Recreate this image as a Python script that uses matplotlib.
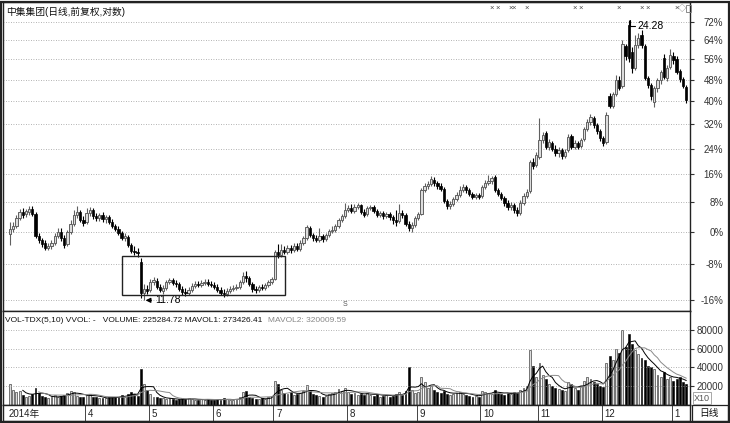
import numpy as np
import pandas as pd
import matplotlib
matplotlib.use('Agg')
import matplotlib.pyplot as plt
import matplotlib.patches as patches
from matplotlib.ticker import NullLocator, NullFormatter

plt.rcParams['font.family'] = ['Liberation Sans', 'Noto Sans CJK SC']

title = '中集集团(日线,前复权,对数)'
vol_header = 'VOL-TDX(5,10) VVOL: -   VOLUME: 225284.72 MAVOL1: 273426.41'
vol_header2 = 'MAVOL2: 320009.59'
base_price = 14.05

opens = [
    13.98, 14.16, 14.27, 14.57, 14.79, 14.72, 14.79, 14.90, 14.72, 13.90, 13.76, 13.66, 13.48, 13.55, 13.66, 13.90,
    14.05, 13.83, 13.62, 14.05, 14.35, 14.68, 14.79, 14.49,
    14.42, 14.75, 14.87, 14.64, 14.57, 14.68, 14.53, 14.61, 14.42, 14.27, 14.16, 14.01, 13.83, 13.87, 13.59, 13.38,
    13.34, 13.00,
    12.00, 12.13, 12.10, 12.35, 12.38, 12.19, 12.06, 12.16, 12.35, 12.41, 12.31, 12.28, 12.13, 12.03, 12.00, 12.10,
    12.22, 12.28, 12.25, 12.31, 12.35, 12.28, 12.25, 12.19, 12.10, 12.00, 11.97, 12.06, 12.13, 12.16, 12.19, 12.35,
    12.54, 12.48, 12.28, 12.13, 12.10, 12.19, 12.16, 12.25, 12.35, 12.44,
    13.34, 13.24, 13.41, 13.34, 13.48, 13.41, 13.55, 13.45, 13.66, 13.83, 14.20, 13.94, 13.83, 13.76, 13.90, 13.79,
    13.94, 14.08, 14.12, 14.27, 14.49, 14.64, 14.87, 14.94, 14.83, 14.98,
    15.06, 14.79, 14.72, 14.94, 14.98, 14.83, 14.68, 14.75, 14.64, 14.72,
    14.61, 14.49, 14.46, 14.75, 14.68, 14.35, 14.20, 14.31, 14.57, 14.72,
    15.66, 15.82, 15.90, 16.07, 15.94, 15.82, 15.70, 15.22, 15.02, 15.10,
    15.30, 15.46, 15.66, 15.78, 15.66, 15.50, 15.38, 15.46, 15.42, 15.78,
    15.94, 16.03, 16.19, 15.66, 15.50, 15.34, 15.14, 14.98, 15.06, 14.87,
    14.75, 15.14, 15.42, 15.62, 16.82, 16.70, 17.04,
    17.81, 18.13, 17.49, 17.67, 17.40, 17.22, 17.36, 17.09, 17.36, 17.99,
    17.49, 17.67, 17.54, 17.85, 18.32, 18.65, 18.85, 18.51, 18.22, 17.90,
    17.72, 19.95, 19.44, 20.05, 20.79, 20.47, 22.69, 23.98, 22.34, 21.44,
    22.75, 23.34, 22.69, 20.90, 20.52, 19.64, 20.36, 20.79, 22.00, 20.90,
    21.50, 22.11, 21.95, 21.28, 20.84, 20.41,
]
highs = [
    14.42, 14.42, 14.68, 14.90, 14.94, 14.90, 15.02, 15.02, 14.79, 14.01, 13.83, 13.76, 13.66, 13.76, 14.01, 14.20,
    14.20, 13.94, 14.12, 14.49, 14.87, 15.02, 14.87, 14.64,
    14.94, 14.98, 14.94, 14.75, 14.75, 14.79, 14.68, 14.68, 14.53, 14.35, 14.27, 14.08, 14.01, 13.94, 13.66, 13.55,
    13.48, 13.14,
    12.28, 12.25, 12.44, 12.51, 12.48, 12.28, 12.25, 12.41, 12.48, 12.48, 12.41, 12.35, 12.22, 12.16, 12.19, 12.31,
    12.38, 12.38, 12.41, 12.44, 12.44, 12.38, 12.35, 12.28, 12.19, 12.13, 12.16, 12.22, 12.25, 12.28, 12.41, 12.67,
    12.70, 12.54, 12.35, 12.22, 12.25, 12.28, 12.31, 12.41, 12.51, 13.41,
    13.62, 13.62, 13.55, 13.59, 13.59, 13.66, 13.66, 13.76, 13.90, 14.31, 14.27, 14.01, 13.94, 14.20, 13.98, 14.01,
    14.16, 14.27, 14.35, 14.57, 14.72, 15.14, 15.06, 15.10, 15.10, 15.14,
    15.10, 14.90, 15.02, 15.06, 15.06, 14.90, 14.83, 14.83, 14.79, 14.79,
    14.68, 14.87, 15.10, 14.87, 14.75, 14.46, 14.42, 14.64, 14.79, 15.74,
    15.94, 16.03, 16.23, 16.19, 16.03, 15.94, 15.78, 15.30, 15.22, 15.38,
    15.58, 15.82, 15.90, 15.86, 15.74, 15.58, 15.54, 15.54, 15.86, 16.07,
    16.27, 16.23, 16.27, 15.74, 15.58, 15.42, 15.26, 15.18, 15.14, 14.98,
    15.26, 15.54, 15.70, 16.91, 17.00, 17.27, 18.85,
    18.18, 18.22, 17.85, 17.76, 17.58, 17.49, 17.45, 17.40, 18.09, 18.09,
    17.81, 17.76, 17.90, 18.41, 18.80, 19.05, 18.95, 18.60, 18.32, 17.99,
    19.15, 20.10, 20.15, 21.06, 21.00, 23.04, 22.81, 24.28, 22.63, 23.34,
    23.49, 23.65, 22.81, 21.00, 20.63, 20.47, 20.90, 21.33, 22.23, 21.61,
    22.52, 22.34, 22.11, 21.39, 20.95, 20.52,
]
lows = [
    13.59, 14.05, 14.20, 14.49, 14.57, 14.61, 14.68, 14.64, 13.83, 13.66, 13.52, 13.41, 13.41, 13.45, 13.59, 13.83,
    13.72, 13.48, 13.55, 13.98, 14.27, 14.57, 14.42, 14.27,
    14.35, 14.64, 14.53, 14.46, 14.46, 14.42, 14.38, 14.35, 14.20, 14.08, 13.94, 13.76, 13.72, 13.52, 13.31, 13.24,
    13.17, 11.85,
    11.78, 11.97, 12.03, 12.25, 12.13, 12.03, 11.97, 12.10, 12.28, 12.25, 12.19, 12.06, 11.94, 11.91, 11.94, 12.03,
    12.16, 12.19, 12.19, 12.25, 12.22, 12.19, 12.13, 12.03, 11.94, 11.88, 11.91, 12.00, 12.06, 12.10, 12.13, 12.28,
    12.35, 12.22, 12.03, 12.00, 12.03, 12.10, 12.10, 12.19, 12.28, 12.41,
    13.14, 13.17, 13.27, 13.27, 13.31, 13.34, 13.38, 13.38, 13.59, 13.76, 13.87, 13.72, 13.69, 13.69, 13.69, 13.72,
    13.87, 14.01, 14.05, 14.20, 14.42, 14.57, 14.79, 14.75, 14.75, 14.90,
    14.72, 14.61, 14.64, 14.87, 14.75, 14.61, 14.61, 14.53, 14.57, 14.49,
    14.35, 14.27, 14.38, 14.57, 14.27, 14.08, 14.05, 14.23, 14.49, 14.68,
    15.58, 15.70, 15.82, 15.82, 15.70, 15.62, 15.14, 14.90, 14.90, 15.02,
    15.22, 15.38, 15.58, 15.54, 15.42, 15.30, 15.30, 15.30, 15.34, 15.70,
    15.86, 15.90, 15.58, 15.42, 15.26, 15.02, 14.87, 14.87, 14.75, 14.64,
    14.68, 15.06, 15.34, 15.54, 16.53, 16.61, 16.95,
    17.67, 17.40, 17.36, 17.31, 17.09, 17.04, 16.95, 17.00, 17.27, 17.40,
    17.40, 17.40, 17.45, 17.76, 18.22, 18.51, 18.37, 18.09, 17.76, 17.54,
    17.63, 19.34, 19.34, 19.95, 20.26, 20.36, 21.89, 21.78, 21.17, 21.33,
    22.57, 22.57, 20.79, 20.36, 19.74, 19.39, 20.15, 20.57, 20.84, 20.74,
    21.39, 21.67, 21.11, 20.68, 20.36, 19.59,
]
closes = [
    14.16, 14.27, 14.57, 14.79, 14.68, 14.83, 14.90, 14.72, 13.90, 13.76, 13.62, 13.48, 13.55, 13.66, 13.90, 14.05,
    13.83, 13.59, 14.05, 14.35, 14.68, 14.79, 14.49, 14.38,
    14.75, 14.87, 14.64, 14.57, 14.68, 14.53, 14.61, 14.42, 14.27, 14.16, 14.01, 13.83, 13.90, 13.59, 13.38, 13.34,
    13.31, 12.00,
    12.13, 12.06, 12.35, 12.41, 12.19, 12.10, 12.16, 12.35, 12.41, 12.31, 12.28, 12.13, 12.03, 12.00, 12.10, 12.22,
    12.28, 12.25, 12.31, 12.35, 12.28, 12.25, 12.19, 12.10, 12.00, 11.97, 12.06, 12.13, 12.16, 12.19, 12.35, 12.54,
    12.48, 12.28, 12.13, 12.10, 12.19, 12.16, 12.25, 12.35, 12.44, 13.34,
    13.24, 13.41, 13.34, 13.48, 13.41, 13.55, 13.45, 13.66, 13.83, 14.23, 13.94, 13.83, 13.76, 13.90, 13.79, 13.94,
    14.08, 14.12, 14.27, 14.49, 14.64, 14.87, 14.94, 14.83, 14.98, 15.06,
    14.79, 14.68, 14.94, 14.98, 14.83, 14.68, 14.75, 14.64, 14.72, 14.61,
    14.49, 14.42, 14.75, 14.68, 14.35, 14.20, 14.31, 14.57, 14.72, 15.66,
    15.82, 15.90, 16.11, 15.94, 15.82, 15.70, 15.22, 15.02, 15.10, 15.30,
    15.46, 15.66, 15.78, 15.66, 15.50, 15.38, 15.46, 15.38, 15.78, 15.94,
    16.03, 16.15, 15.66, 15.50, 15.34, 15.14, 14.98, 15.06, 14.87, 14.75,
    15.14, 15.42, 15.58, 16.82, 16.66, 17.13, 17.81,
    18.04, 17.49, 17.72, 17.40, 17.22, 17.36, 17.09, 17.27, 17.95, 17.49,
    17.67, 17.49, 17.81, 18.32, 18.65, 18.90, 18.51, 18.22, 17.90, 17.67,
    19.00, 19.44, 20.05, 20.79, 20.36, 22.81, 22.11, 22.00, 21.44, 22.75,
    23.16, 22.75, 20.90, 20.52, 19.95, 20.36, 20.79, 21.22, 20.95, 21.44,
    22.17, 21.89, 21.22, 20.84, 20.47, 19.74,
]
# volume in chart units (x10)
volumes = [
    22000, 16000, 14000, 15000, 11000, 9000, 10000, 12000, 18000, 13000, 10000, 8000, 7000, 8000, 11000, 9000,
    10000, 11000, 13000, 15000, 14000, 10000, 9000, 9000,
    11000, 12000, 9000, 8000, 7000, 7500, 7000, 8000, 9000, 8000, 9000, 11000, 9000, 12000, 14000, 12000, 10000,
    38000, 22000,
    16000, 12000, 9000, 8000, 7000, 7500, 6500, 7000, 6000, 5500, 6000, 7000, 6500, 7000, 6000, 5500, 5000, 6000,
    5500, 6500, 5000, 5500, 6000, 5500, 7000, 6000, 5500, 5000, 6500, 8000, 14000, 15000, 9000, 7000, 6500, 6000,
    7000, 6500, 8000, 10000,
    26000,
    22000, 16000, 13000, 12000, 14000, 11000, 12000, 13000, 15000, 21000, 16000, 12000, 11000, 10000, 9000, 10000,
    12000, 13000, 14000, 17000, 15000, 18000, 14000, 12000, 13000, 11000,
    12000, 11000, 13000, 11000, 10000, 12000, 9000, 10000, 11000, 9000, 10000, 12000, 14000, 11000, 15000, 40000,
    16000, 13000, 14000,
    30000,
    24000, 18000, 20000, 16000, 14000, 13000, 15000, 12000, 11000, 12000, 13000, 14000, 12000, 11000, 10000, 9000,
    10000, 9000, 15000, 14000, 13000, 12000, 16000, 13000, 12000, 11000, 13000, 12000, 14000, 13000, 16000, 18000,
    20000,
    58000, 42000, 30000, 45000,
    32000, 28000, 22000, 20000, 18000, 17000, 16000, 15000, 25000, 22000, 18000, 16000, 20000, 26000, 30000, 28000,
    24000, 22000, 20000, 19000,
    45000, 52000, 48000, 60000, 55000, 80000, 62000, 76000, 65000, 58000, 54000, 50000,
    48000, 42000, 40000, 38000, 32000, 30000, 35000, 28000, 30000, 26000, 28000, 30000, 24000, 22528,
]

pct_ticks = [-16, -8, 0, 8, 16, 24, 32, 40, 48, 56, 64, 72]
vol_ticks = [20000, 40000, 60000, 80000]
month_starts = [-1, 24, 44, 64, 83, 106, 128, 148, 166, 186, 208]
month_labels = ['2014年', '4', '5', '6', '7', '8', '9', '10', '11', '12', '1']
marker_days = [151, 153, 157, 158, 162, 177, 179, 191, 198, 200, 209]

W, H = 730, 423


def rect(x0, y0, x1, y1):
    # pixel box -> figure fraction
    return [x0 / W, 1 - y1 / H, (x1 - x0) / W, (y1 - y0) / H]


def fx(x):
    return x / W


def fy(y):
    return 1 - y / H


fig = plt.figure(figsize=(7.3, 4.23), dpi=100)
ax = fig.add_axes(rect(3, 2, 690, 311))
axv = fig.add_axes(rect(3, 311, 690, 405))
axd = fig.add_axes(rect(3, 405, 690, 421))

o = np.array(opens)
h = np.array(highs)
l = np.array(lows)
c = np.array(closes)
v = np.array(volumes, dtype=float)
idx = np.arange(len(c))
up = c >= o
dn = ~up

xlim = (-2.2, 213.2)

# candles
ax.set_yscale('log')
ax.vlines(idx[up], l[up], h[up], color='#606060', lw=0.8, zorder=2)
ax.vlines(idx[dn], l[dn], h[dn], color='black', lw=0.8, zorder=2)
lo_b = np.minimum(o, c)
hi_b = np.maximum(o, c)
ax.bar(idx[up], hi_b[up] - lo_b[up], bottom=lo_b[up], width=0.72,
       facecolor='#dddddd', edgecolor='#606060', linewidth=0.7, zorder=3)
ax.bar(idx[dn], hi_b[dn] - lo_b[dn], bottom=lo_b[dn], width=0.72,
       facecolor='black', edgecolor='black', linewidth=0.5, zorder=3)

ax.set_xlim(*xlim)
ax.set_ylim(11.46, 25.42)
ax.yaxis.tick_right()
ax.set_yticks([base_price * (1 + p / 100) for p in pct_ticks])
ax.set_yticklabels([f'{p}%' for p in pct_ticks])
ax.yaxis.set_minor_locator(NullLocator())
ax.yaxis.set_minor_formatter(NullFormatter())
ax.tick_params(axis='y', length=3, labelsize=7, pad=21, colors='#333333')
for lab in ax.get_yticklabels():
    lab.set_horizontalalignment('right')
ax.set_xticks([])
ax.grid(axis='y', which='major', ls=(0, (1, 2)), color='#9a9a9a', lw=0.6)

# box round the bottom range
ax.add_patch(patches.Rectangle((35.1, 11.93), 51.1, 13.21 - 11.93, fill=False,
                               edgecolor='#222222', lw=1.0, zorder=4))

i_lo = int(np.argmin(l))
i_hi = int(np.argmax(h))
ax.annotate(f'{l[i_lo]:.2f}', xy=(i_lo + 0.5, l[i_lo]), xytext=(i_lo + 3.6, l[i_lo]),
            fontsize=7.5, va='center', ha='left',
            arrowprops=dict(arrowstyle='-|>', color='black', lw=0.9, mutation_scale=7,
                            shrinkA=1, shrinkB=0))
ax.annotate(f'{h[i_hi]:.2f}', xy=(i_hi + 0.3, h[i_hi]), xytext=(i_hi + 2.8, h[i_hi] * 0.985),
            fontsize=7.5, va='center', ha='left',
            arrowprops=dict(arrowstyle='-', color='black', lw=0.8, shrinkA=0, shrinkB=0,
                            connectionstyle='angle,angleA=0,angleB=90,rad=0'))

for d in marker_days:
    ax.text(d, 0.978, '×', transform=ax.get_xaxis_transform(), fontsize=5.5,
            ha='center', va='center', color='#444444')
ax.text(105, 0.01, 'S', transform=ax.get_xaxis_transform(), fontsize=5,
        ha='center', va='bottom', color='#555555')

# volume
axv.bar(idx[up], v[up], width=0.6, facecolor='#dddddd', edgecolor='#606060', linewidth=0.6)
axv.bar(idx[dn], v[dn], width=0.6, facecolor='black', edgecolor='black', linewidth=0.4)
ma5 = pd.Series(v).rolling(5).mean()
ma10 = pd.Series(v).rolling(10).mean()
axv.plot(idx, ma5, color='black', lw=0.7)
axv.plot(idx, ma10, color='#8a8a8a', lw=0.7)
axv.set_xlim(*xlim)
axv.set_ylim(0, 100000)
axv.yaxis.tick_right()
axv.set_yticks(vol_ticks)
axv.set_yticklabels([str(t) for t in vol_ticks])
axv.tick_params(axis='y', length=3, labelsize=7, pad=21, colors='#333333')
for lab in axv.get_yticklabels():
    lab.set_horizontalalignment('right')
axv.set_xticks([])
axv.grid(axis='y', ls=(0, (1, 2)), color='#9a9a9a', lw=0.6)

# date strip
axd.set_xlim(*xlim)
axd.set_ylim(0, 1)
axd.set_xticks([])
axd.set_yticks([])
for m, lab in zip(month_starts, month_labels):
    if m > 0:
        axd.axvline(m - 0.5, color='#444444', lw=0.7)
    axd.text(m + 0.4, 0.45, lab, fontsize=7, ha='left', va='center', color='#222222')

for a in (ax, axv, axd):
    for s in a.spines.values():
        s.set_color('#222222')
        s.set_linewidth(1.0)

# texts
fig.text(fx(6), fy(12), title, fontsize=7, ha='left', va='center', color='#111111')
t1 = fig.text(fx(5), fy(320), vol_header, fontsize=6.0, ha='left', va='center', color='#111111')
axv.annotate(vol_header2, xy=(1, 0.5), xycoords=t1, xytext=(4, 0), textcoords='offset points',
             fontsize=6.0, ha='left', va='center', color='#888888', annotation_clip=False)
fig.text(fx(694), fy(398), 'X10', fontsize=6.5, ha='left', va='center', color='#555555',
         bbox=dict(boxstyle='square,pad=0.15', fc='white', ec='#999999', lw=0.6))
fig.text(fx(709), fy(413), '日线', fontsize=7, ha='center', va='center', color='#111111')
fig.text(fx(682), fy(9), '◇', fontsize=6, ha='center', va='center', color='#777777')
fig.add_artist(patches.Rectangle((fx(686), fy(12)), fx(5), 7 / H, transform=fig.transFigure,
                                 fill=False, ec='#777777', lw=0.6))

# frame and right-side boxes
fig.add_artist(patches.Rectangle((fx(1.5), fy(421.5)), fx(727), 419.5 / H, transform=fig.transFigure,
                                 fill=False, ec='#222222', lw=1.6))
fig.add_artist(patches.Rectangle((fx(692), fy(421)), fx(36), 16 / H, transform=fig.transFigure,
                                 fill=False, ec='#222222', lw=0.9))

fig.savefig('out.png', dpi=100)
